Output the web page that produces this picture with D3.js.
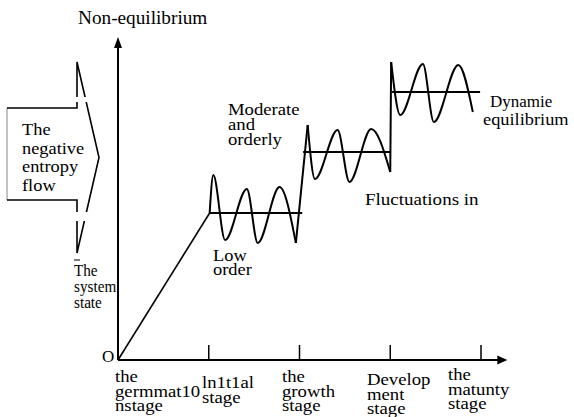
<!DOCTYPE html>
<html>
<head>
<meta charset="utf-8">
<script src="https://cdn.jsdelivr.net/npm/d3@7"></script>
<style>
body{margin:0;background:#fff;}
text{font-family:"Liberation Serif","Times New Roman",serif;fill:#000;}
</style>
</head>
<body>
<div id="chart"></div>
<script>
var w = 574, h = 417;

// stages along the x axis (0 = origin)
var stages = [1, 2, 3, 4];
var stageLabels = [["the", "germmat10", "nstage"], ["ln1t1al", "stage"], ["the", "growth", "stage"], ["Develop", "ment", "stage"], ["the", "matunty", "stage"]];

// order level of each stage: [from stage, to stage, value]
var levels = [[1.01, 2.03, 147], [2.04, 3.0, 208], [3.02, 3.99, 268]];
var rise = [[0, 0], [1.01, 147]];

// fluctuations, [stage, value]
var wave1 = [[1.01, 147], [1.05, 185], [1.18, 120], [1.42, 171], [1.54, 117], [1.78, 173], [1.96, 117]];
var jump1 = [[1.96, 117], [2.09, 235]];
var wave2 = [[2.09, 235], [2.17, 181], [2.42, 230], [2.55, 178], [2.79, 231], [3.0, 188]];
var jump2 = [[3.0, 188], [3.01, 298]];
var wave3 = [[3.01, 298], [3.11, 245], [3.36, 296], [3.48, 238], [3.75, 295], [3.91, 248]];

var yTitle = "Non-equilibrium";
var flowText = ["The", "negative", "entropy", "flow"];
var stateText = ["The", "system", "state"];
var lowText = ["Low", "order"];
var modText = ["Moderate", "and", "orderly"];
var flucText = ["Fluctuations in"];
var dynText = ["Dynamie", "equilibrium"];

var svg = d3.select("#chart").append("svg")
  .attr("width", w)
  .attr("height", h)
  .style("background", "#fff");

var x = d3.scaleLinear().domain([0, 4]).range([118, 481]);
var y = d3.scaleLinear().domain([0, 323]).range([360, 37]);

var line = d3.line().x(function(d){ return x(d[0]); }).y(function(d){ return y(d[1]); });
var curve = d3.line().x(function(d){ return x(d[0]); }).y(function(d){ return y(d[1]); }).curve(d3.curveMonotoneX);

// axes
svg.append("line")
  .attr("x1", x(0)).attr("y1", y(0))
  .attr("x2", x(0)).attr("y2", y(312))
  .attr("stroke", "#000").attr("stroke-width", 2);
svg.append("path")
  .attr("d", "M" + x(0) + "," + y(323) + "l-4,11l8,0z")
  .attr("fill", "#000");

svg.append("line")
  .attr("x1", x(0)).attr("y1", y(0))
  .attr("x2", x(4.2)).attr("y2", y(0))
  .attr("stroke", "#000").attr("stroke-width", 2);
svg.append("path")
  .attr("d", "M" + x(4.29) + "," + y(0) + "l-10,-4.5l0,9z")
  .attr("fill", "#000");

svg.selectAll(".tick")
  .data(stages)
  .enter()
  .append("line")
  .attr("class", "tick")
  .attr("x1", function(d){ return x(d); })
  .attr("x2", function(d){ return x(d); })
  .attr("y1", y(0))
  .attr("y2", y(15))
  .attr("stroke", "#000").attr("stroke-width", 1.5);

// rise, levels, fluctuations
svg.append("path").attr("d", line(rise))
  .attr("fill", "none").attr("stroke", "#000").attr("stroke-width", 1.6);

svg.selectAll(".level")
  .data(levels)
  .enter()
  .append("line")
  .attr("class", "level")
  .attr("x1", function(d){ return x(d[0]); })
  .attr("x2", function(d){ return x(d[1]); })
  .attr("y1", function(d){ return y(d[2]); })
  .attr("y2", function(d){ return y(d[2]); })
  .attr("stroke", "#000").attr("stroke-width", 1.9);

[wave1, wave2, wave3].forEach(function(d){
  svg.append("path").attr("d", curve(d))
    .attr("fill", "none").attr("stroke", "#000").attr("stroke-width", 2);
});
[jump1, jump2].forEach(function(d){
  svg.append("path").attr("d", line(d))
    .attr("fill", "none").attr("stroke", "#000").attr("stroke-width", 2);
});

// big arrow on the left (negative entropy flow)
var ax0 = 7, axN = 77, axT = 99, ayT = 108, ayB = 200, ayHT = 62, ayHB = 253;
var ayM = (ayHT + ayHB) / 2;
svg.append("line")
  .attr("x1", ax0).attr("y1", ayT).attr("x2", ax0).attr("y2", ayB)
  .attr("stroke", "#999").attr("stroke-width", 1.2);
svg.append("path")
  .attr("d", "M" + ax0 + "," + ayT + "H" + axN + "V" + ayHT + "L" + axT + "," + ayM +
             "L" + axN + "," + ayHB + "V" + ayB + "H" + ax0)
  .attr("fill", "none").attr("stroke", "#000").attr("stroke-width", 1.6);
// scan gaps
svg.append("rect").attr("x", 72).attr("y", 97).attr("width", 20).attr("height", 5).attr("fill", "#fff");
svg.append("rect").attr("x", 72).attr("y", 212).attr("width", 20).attr("height", 9).attr("fill", "#fff");

// text
function label(lines, lx, ly, lh, fs, sx){
  var g = svg.append("g").attr("transform", "translate(" + lx + "," + ly + ") scale(" + sx + ",1)");
  lines.forEach(function(t, i){
    g.append("text").attr("x", 0).attr("y", i * lh).style("font-size", fs + "px").text(t);
  });
}

label([yTitle], 78, 24, 0, 18, 1.07);
label(flowText, 22, 135, 18.7, 17, 1.08);
label(stateText, 74, 276, 16, 16, 0.95);
svg.append("line").attr("x1", 74).attr("x2", 80).attr("y1", 260).attr("y2", 260)
  .attr("stroke", "#222").attr("stroke-width", 1.2);
label(lowText, 213, 261, 14, 16, 1.15);
label(modText, 228, 115, 15, 17, 1.1);
label(flucText, 365, 205, 0, 17, 1.12);
label([dynText[0]], 490, 107, 0, 17, 1.0);
label([dynText[1]], 483, 125, 0, 17, 1.08);
label(["O"], 102, 362, 0, 17, 1.0);

var stageX = [115, 202, 282, 367, 448];
var stageY = [382, 388, 382, 385, 380];
stageLabels.forEach(function(d, i){
  label(d, stageX[i], stageY[i], 14.5, 16, 1.17);
});
</script>
</body>
</html>
